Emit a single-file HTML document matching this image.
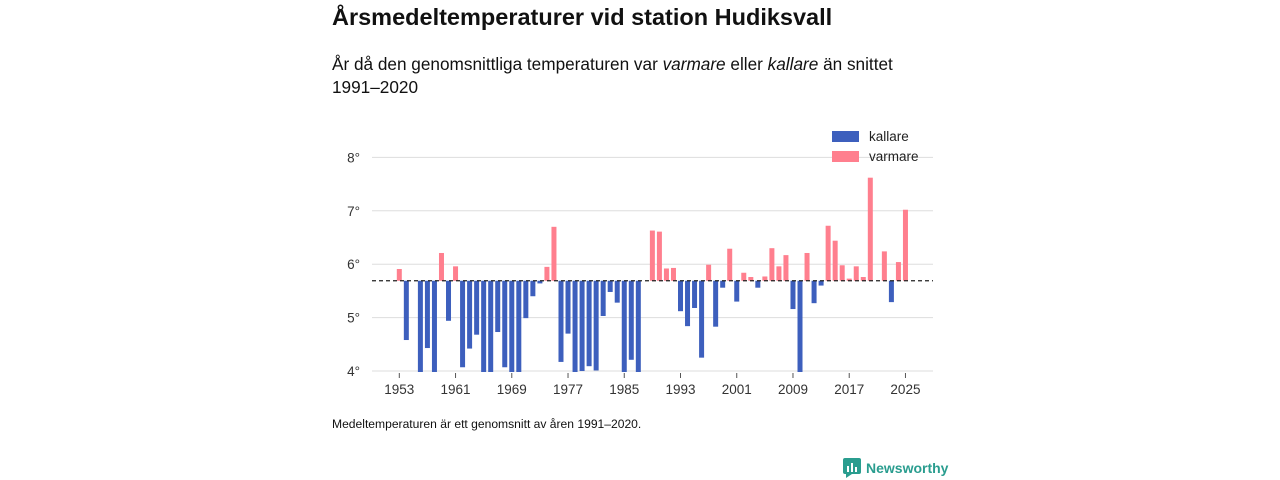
<!DOCTYPE html>
<html><head><meta charset="utf-8"><style>
body{margin:0;width:1280px;height:480px;background:#fff;font-family:"Liberation Sans","DejaVu Sans",sans-serif;color:#111;position:relative;overflow:hidden}
.t{position:absolute;left:332px;top:4px;font-size:23.5px;font-weight:bold}
.s{position:absolute;left:332px;top:53px;font-size:17.2px;line-height:23px;width:600px}
.f{position:absolute;left:332px;top:417px;font-size:12.1px}
.logo{position:absolute;left:843px;top:458px;font-size:14px;color:#2a9d8f;font-weight:bold;display:flex;align-items:center;gap:5px}
</style></head><body>
<div class="t">Årsmedeltemperaturer vid station Hudiksvall</div>
<div class="s">År då den genomsnittliga temperaturen var <i>varmare</i> eller <i>kallare</i> än snittet 1991–2020</div>
<svg id="c" width="1280" height="480" style="position:absolute;left:0;top:0"></svg>
<div class="f">Medeltemperaturen är ett genomsnitt av åren 1991–2020.</div>
<div class="logo"><svg width="18" height="20"><rect x="0" y="0" width="18" height="16" rx="2" fill="#2a9d8f"/><polygon points="3,16 9,16 3,20" fill="#2a9d8f"/><rect x="4" y="8" width="2" height="6" fill="#fff"/><rect x="8" y="5" width="2" height="9" fill="#fff"/><rect x="12" y="9" width="2" height="5" fill="#fff"/></svg>Newsworthy</div>
<script>
const years=[1953,1954,1956,1957,1958,1959,1960,1961,1962,1963,1964,1965,1966,1967,1968,1969,1970,1971,1972,1973,1974,1975,1976,1977,1978,1979,1980,1981,1982,1983,1984,1985,1986,1987,1989,1990,1991,1992,1993,1994,1995,1996,1997,1998,1999,2000,2001,2002,2003,2004,2005,2006,2007,2008,2009,2010,2011,2012,2013,2014,2015,2016,2017,2018,2019,2020,2022,2023,2024,2025];
const temps=[5.91,4.58,3.9,4.43,3.9,6.21,4.94,5.96,4.07,4.42,4.68,3.9,3.9,4.73,4.07,3.9,3.9,4.99,5.40,5.64,5.95,6.70,4.17,4.70,3.9,4.0,4.09,4.01,5.03,5.48,5.28,3.9,4.21,3.9,6.63,6.61,5.92,5.93,5.12,4.84,5.18,4.25,5.99,4.83,5.56,6.29,5.30,5.84,5.76,5.56,5.77,6.30,5.96,6.17,5.16,3.9,6.21,5.27,5.60,6.72,6.44,5.98,5.73,5.96,5.76,7.62,6.24,5.29,6.04,7.02];
const baseline=5.69;
const yTicks=[4,5,6,7,8];
const xTicks=[1953,1961,1969,1977,1985,1993,2001,2009,2017,2025];
const NS="http://www.w3.org/2000/svg",svg=document.getElementById('c');
const X=y=>399.3+(y-1953)*7.03;
const Y=v=>371-(v-4)*53.4;
function el(t,a,p){const e=document.createElementNS(NS,t);for(const k in a)e.setAttribute(k,a[k]);(p||svg).appendChild(e);return e;}
yTicks.forEach(v=>{
 const l=el('line',{x1:372,x2:933,y1:Y(v),y2:Y(v),stroke:'#ddd','stroke-width':1});
 
 
 const t=el('text',{x:360,y:Y(v)+5,'text-anchor':'end','font-size':13.5,fill:'#333'});t.textContent=v+'°';
 
 
});
const cp=el('clipPath',{id:'cl'});el('rect',{x:360,y:100,width:600,height:272},cp);
const g=el('g',{'clip-path':'url(#cl)'});
years.forEach((yr,i)=>{
 const v=temps[i],a=Y(v),b=Y(baseline);
 const r=el('rect',{x:X(yr)-2.5,y:Math.min(a,b),width:5,height:Math.abs(a-b),fill:v>=baseline?'#ff7f8e':'#3d5fbd'},g);
 
 
});
const bl=el('line',{x1:372,x2:933,y1:Y(baseline),y2:Y(baseline),stroke:'#222','stroke-width':1.2,'stroke-dasharray':'4,3'});


xTicks.forEach(yr=>{
 el('line',{x1:X(yr),x2:X(yr),y1:373,y2:378,stroke:'#555'});
 const t=el('text',{x:X(yr),y:394,'text-anchor':'middle','font-size':13.5,fill:'#333'});t.textContent=yr;
 
 
});
[['kallare','#3d5fbd',131],['varmare','#ff7f8e',151]].forEach(([n,c,y])=>{
 const r=el('rect',{x:832,y:y,width:27,height:11,fill:c});
 
 
 const t=el('text',{x:869,y:y+10,'font-size':13.5,fill:'#222'});t.textContent=n;
 
 
});
</script>
</body></html>
